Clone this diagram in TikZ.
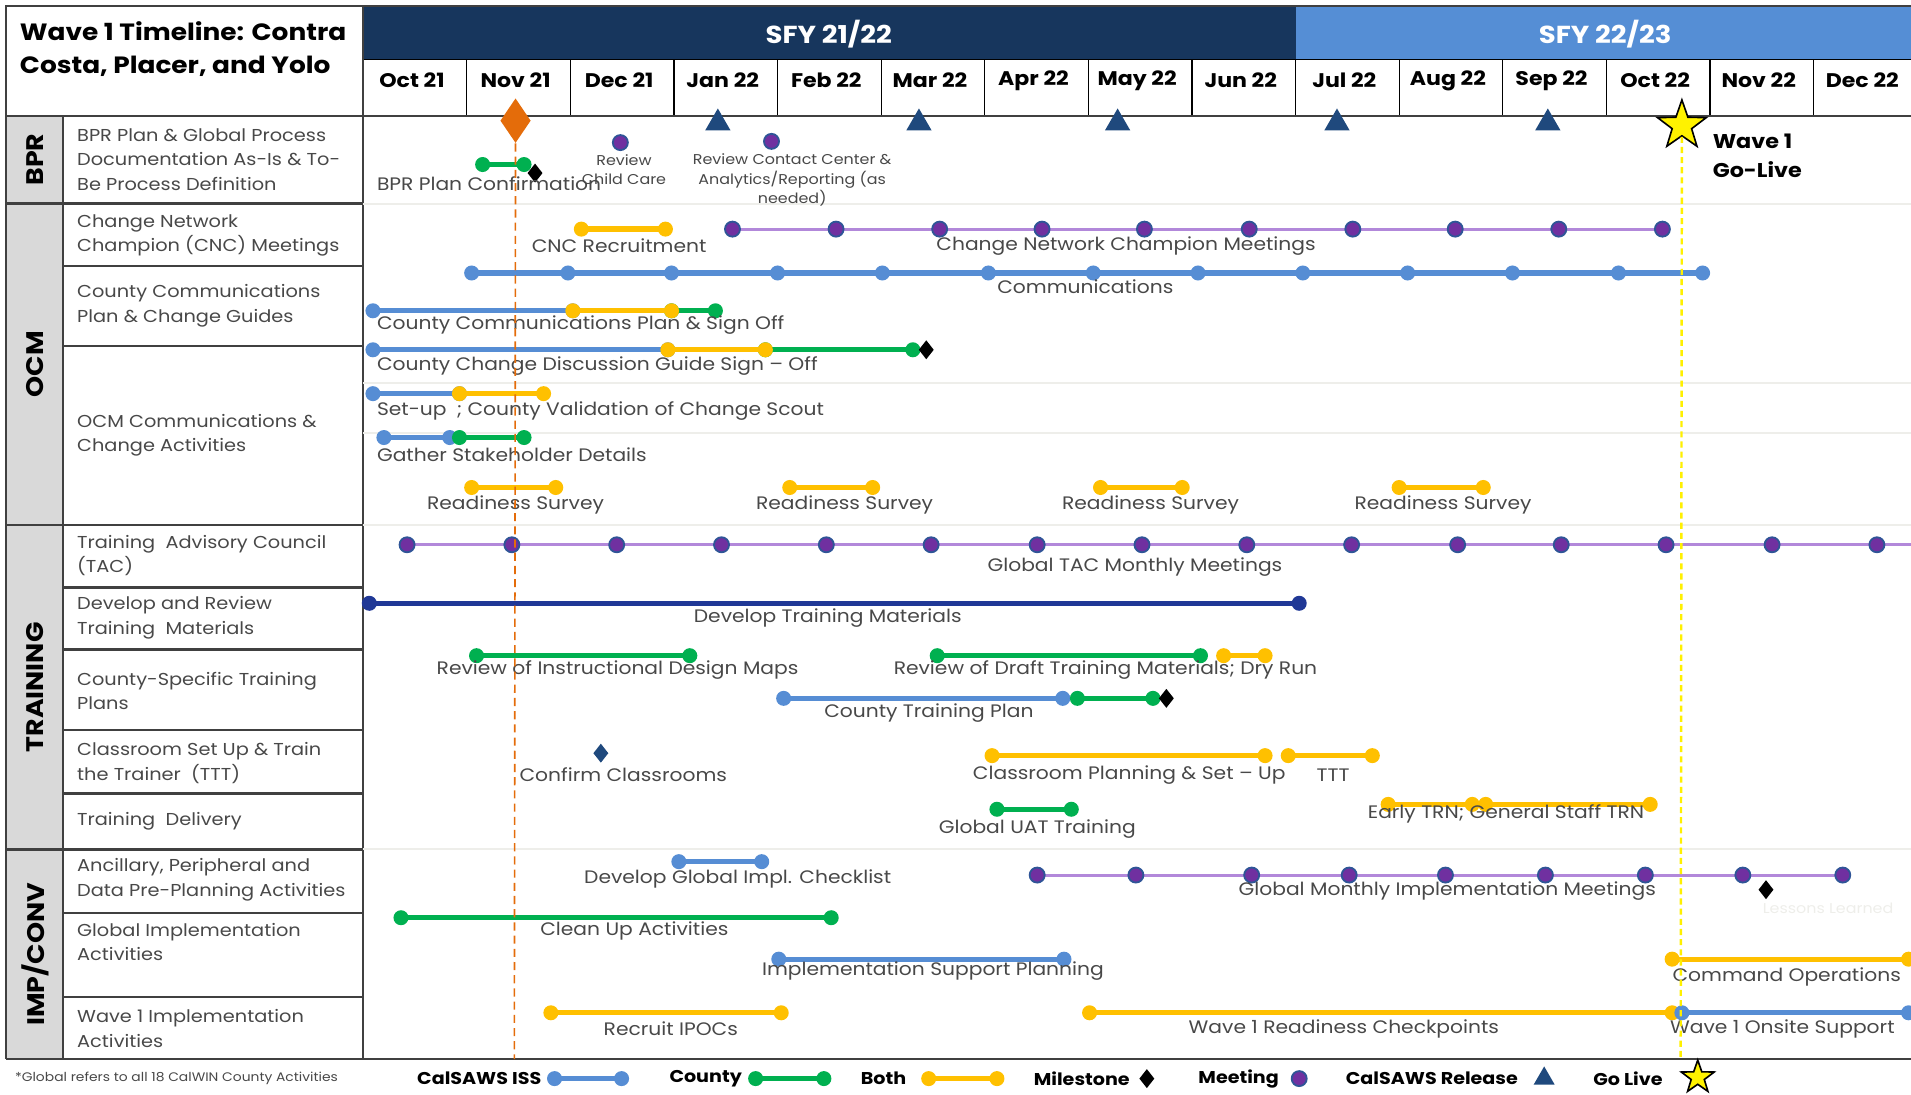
\documentclass[tikz,border=0pt]{standalone}
\usepackage{fontspec}
\setmainfont{Poppins}[FakeStretch=1.12]
\usetikzlibrary{shapes.geometric}

\definecolor{cNavyHdr}{RGB}{23,54,93}
\definecolor{cBlueHdr}{RGB}{85,142,213}
\definecolor{cISS}{RGB}{86,141,212}
\definecolor{cCounty}{RGB}{0,176,80}
\definecolor{cBoth}{RGB}{255,192,0}
\definecolor{cMeetDot}{RGB}{112,48,160}
\definecolor{cMeetRing}{RGB}{47,85,151}
\definecolor{cMeetLine}{RGB}{178,136,218}
\definecolor{cRelease}{RGB}{31,73,125}
\definecolor{cDevNavy}{RGB}{32,56,150}
\definecolor{cOrange}{RGB}{228,108,10}
\definecolor{cSide}{RGB}{217,217,217}
\definecolor{cTxt}{RGB}{72,72,72}
\definecolor{cGrid}{RGB}{64,64,64}
\definecolor{cFaint}{RGB}{238,238,234}
\definecolor{cGoLine}{RGB}{255,240,0}

\newcommand{\fRow}{\fontsize{8.5}{12}\selectfont}
\newcommand{\fLbl}{\fontsize{8.9}{10}\selectfont}
\newcommand{\fSmall}{\fontsize{7}{9.6}\selectfont}
\newcommand{\fMon}{\bfseries\fontsize{9.7}{11}\selectfont}
\newcommand{\fHdr}{\bfseries\fontsize{12.1}{14}\selectfont}
\newcommand{\fTitle}{\bfseries\fontsize{11.6}{16.2}\selectfont}
\newcommand{\fCat}{\bfseries\fontsize{11.8}{12}\selectfont}
\newcommand{\fLeg}{\bfseries\fontsize{8.4}{11}\selectfont}
\newcommand{\fGo}{\bfseries\fontsize{9.8}{14.4}\selectfont}
\newcommand{\fNote}{\fontsize{6.1}{7}\selectfont}

% colour, name, x from, x to, y
\newcommand{\tlbar}[5]{%
  \coordinate (#2s) at (#3,#5); \coordinate (#2e) at (#4,#5);
  \draw[tlline=#1] (#2s) -- (#2e);
  \node[tldot=#1] (#2d1) at (#2s) {};
  \node[tldot=#1] (#2d2) at (#2e) {};}
% name, y, x from, x to, dots
\newcommand{\tlmeet}[5]{%
  \coordinate (#1s) at (#3,#2); \coordinate (#1e) at (#4,#2);
  \draw[meetbar] (#1s) -- (#1e);
  \foreach \mx [count=\k] in {#5} \node[meetdot] (#1\k) at (\mx,#2) {};}

\begin{document}
\begin{tikzpicture}[x=0.6pt, y=-0.6pt,
  tldot/.style={circle, fill=#1, inner sep=0pt, minimum size=7.4pt},
  tlline/.style={draw=#1, line width=2.6pt},
  meetbar/.style={draw=cMeetLine, line width=1.5pt},
  meetdot/.style={circle, fill=cMeetDot, draw=cMeetRing, line width=0.9pt, inner sep=0pt, minimum size=7.4pt},
  milestone/.style={diamond, fill=black, inner sep=0pt, minimum width=7.5pt, minimum height=9.5pt},
  release/.style={regular polygon, regular polygon sides=3, fill=cRelease, inner sep=0pt, minimum size=14.4pt},
  golive/.style={star, star points=5, star point ratio=2.5, fill=yellow, draw=black, line width=0.8pt, inner sep=0pt, minimum size=#1},
  lbl/.style={anchor=west, inner sep=0pt, text=cTxt, font=\fLbl},
  clbl/.style={inner sep=0pt, text=cTxt, font=\fLbl},
  rowlbl/.style={anchor=west, align=left, inner sep=0pt, text=cTxt, font=\fRow},
  catlbl/.style={rotate=90, inner sep=0pt, font=\fCat},
  monthcell/.style={draw=black, line width=0.6pt, minimum width=51pt, minimum height=27.6pt, inner sep=0pt},
  leg/.style={anchor=west, inner sep=0pt, font=\fLeg},
  gridline/.style={draw=cGrid, line width=1.1pt}]
\useasboundingbox (0,0) rectangle (1568,898);

% header
\fill[cNavyHdr] (298,5) rectangle (1063,49);
\fill[cBlueHdr] (1063,5) rectangle (1568,49);
\node[text=white, font=\fHdr] (sfy1) at (680,28) {SFY 21/22};
\node[text=white, font=\fHdr] (sfy2) at (1317,28) {SFY 22/23};
\foreach \m [count=\i from 0] in {Oct 21, Nov 21, Dec 21, Jan 22, Feb 22, Mar 22, Apr 22, May 22, Jun 22, Jul 22, Aug 22, Sep 22, Oct 22, Nov 22, Dec 22}{
  \node[monthcell] (mon\i) at ({340.5+85*\i},72) {};
  \node[inner sep=0pt, font=\fMon] (monT\i) at ({338+85*\i},66) {\m};}
\draw[cGrid, line width=1pt] (5,5) -- (1568,5);
\draw[gridline] (5,5) rectangle (298,95);
\node[anchor=west, align=left, inner sep=0pt, font=\fTitle] (title) at (16,40) {Wave 1 Timeline: Contra\\Costa, Placer, and Yolo};

% left columns
\fill[cSide] (5,95) rectangle (52,869);
\foreach \yy in {167,218,284,431,482,533,599,651,697,749,818}
  \draw[gridline] (52,\yy) -- (298,\yy);
\foreach \yy in {95,167,431,697,869}
  \draw[gridline] (5,\yy) -- (298,\yy);
\draw[gridline] (5,95) -- (5,869);
\draw[gridline] (52,95) -- (52,869);
\draw[gridline] (298,5) -- (298,869);
\draw[cGrid, line width=1.1pt] (298,869) -- (1568,869);
\draw[cGrid, line width=0.8pt] (298,95) -- (1568,95);

\node[catlbl] (cBPR) at (29,131) {BPR};
\node[catlbl] (cOCM) at (29,299) {OCM};
\node[catlbl] (cTRN) at (29,564) {TRAINING};
\node[catlbl] (cIMP) at (29,783) {IMP/CONV};

\node[rowlbl] (r1) at (63,131) {BPR Plan \& Global Process\\Documentation As-Is \& To-\\Be Process Definition};
\node[rowlbl] (r2) at (63,193) {Change Network\\Champion (CNC) Meetings};
\node[rowlbl] (r3) at (63,251) {County Communications\\Plan \& Change Guides};
\node[rowlbl] (r4) at (63,357) {OCM Communications \&\\Change Activities};
\node[rowlbl] (r5) at (63,456) {Training\ \ Advisory Council\\(TAC)};
\node[rowlbl] (r6) at (63,507) {Develop and Review\\Training\ \ Materials};
\node[rowlbl] (r7) at (63,567) {County-Specific Training\\Plans};
\node[rowlbl] (r8) at (63,626) {Classroom Set Up \& Train\\the Trainer\ \ (TTT)};
\node[rowlbl] (r9) at (63,674) {Training\ \ Delivery};
\node[rowlbl] (r10) at (63,722) {Ancillary, Peripheral and\\Data Pre-Planning Activities};
\node[rowlbl] (r11) at (63,773) {Global Implementation\\Activities};
\node[rowlbl] (r12) at (63,844) {Wave 1 Implementation\\Activities};

% faint separators
\foreach \yy in {167,314,355,431,697}
  \draw[cFaint, line width=1pt] (298,\yy) -- (1568,\yy);

% releases and go-live
\foreach \rx [count=\i] in {589,754,917,1097,1270}
  \node[release] (rel\i) at (\rx,101) {};
\node[diamond, fill=cOrange, inner sep=0pt, minimum width=15pt, minimum height=22pt] (msBig) at (423,99) {};
\node[golive=25.2pt] (goLive) at (1380,103) {};
\node[anchor=west, align=left, inner sep=0pt, font=\fGo] (goTxt) at (1405,128) {Wave 1\\Go-Live};

% BPR
\tlbar{cCounty}{bpr}{396}{430}{135}
\node[milestone] (bprM) at (439,142) {};
\node[lbl] (bprT) at (309,151) {BPR Plan Confirmation};
\node[meetdot] (revA) at (509,117) {};
\node[meetdot] (revB) at (633,116) {};
\node[inner sep=0pt, align=center, text=cTxt, font=\fSmall] (revAT) at (512,139) {Review\\Child Care};
\node[inner sep=0pt, align=center, text=cTxt, font=\fSmall] (revBT) at (650,148) {Review Contact Center \&\\Analytics/Reporting (as\\needed)};

% OCM
\tlbar{cBoth}{cncR}{477}{546}{188}
\node[lbl] (cncRT) at (436,202) {CNC Recruitment};
\tlmeet{cncM}{188}{601}{1365}{601,686,771,855,939,1025,1110,1194,1279,1364}
\node[lbl] (cncMT) at (768,202) {Change Network Champion Meetings};
\coordinate (comS) at (387,224); \coordinate (comE) at (1397,224);
\draw[tlline=cISS] (comS) -- (comE);
\foreach \cx [count=\i] in {387,466,551,638,724,811,897,983,1069,1155,1241,1328,1397}
  \node[tldot=cISS] (com\i) at (\cx,224) {};
\node[lbl] (comT) at (818,235) {Communications};

\tlbar{cISS}{ccpA}{306}{470}{255}
\tlbar{cCounty}{ccpC}{551}{587}{255}
\tlbar{cBoth}{ccpB}{470}{551}{255}
\node[lbl] (ccpT) at (309,267) {County Communications Plan \& Sign Off};
\tlbar{cISS}{ccdA}{306}{548}{287}
\tlbar{cCounty}{ccdC}{628}{749}{287}
\tlbar{cBoth}{ccdB}{548}{628}{287}
\node[milestone] (ccdM) at (760,287) {};
\node[lbl] (ccdT) at (309,300) {County Change Discussion Guide Sign – Off};
\tlbar{cISS}{setA}{306}{377}{323}
\tlbar{cBoth}{setB}{377}{446}{323}
\node[lbl] (setT) at (309,337) {Set-up\hspace{5pt}; County Validation of Change Scout};
\tlbar{cISS}{gatA}{315}{369}{359}
\tlbar{cCounty}{gatB}{377}{430}{359}
\node[lbl] (gatT) at (309,373) {Gather Stakeholder Details};
\foreach \ra/\rb/\rc [count=\i] in {387/456/423,648/716/693,903/970/944,1148/1217/1184}{
  \tlbar{cBoth}{rs\i}{\ra}{\rb}{400}
  \node[clbl] (rs\i T) at (\rc,414) {Readiness Survey};}

% Training
\tlmeet{tac}{447}{334}{1568}{334,420,506,592,678,764,851,937,1023,1109,1196,1281,1367,1454,1540}
\node[lbl] (tacT) at (810,465) {Global TAC Monthly Meetings};
\tlbar{cDevNavy}{dev}{303}{1066}{495}
\node[lbl] (devT) at (569,507) {Develop Training Materials};
\tlbar{cCounty}{idm}{391}{566}{538}
\node[lbl] (idmT) at (358,550) {Review of Instructional Design Maps};
\tlbar{cCounty}{rdA}{769}{985}{538}
\tlbar{cBoth}{rdB}{1004}{1038}{538}
\node[lbl] (rdT) at (733,550) {Review of Draft Training Materials; Dry Run};
\tlbar{cISS}{ctpA}{643}{872}{573}
\tlbar{cCounty}{ctpB}{884}{946}{573}
\node[milestone] (ctpM) at (957,573) {};
\node[lbl] (ctpT) at (676,585) {County Training Plan};
\node[milestone, fill=cRelease] (ccM) at (493,618) {};
\node[lbl] (ccT) at (426,636) {Confirm Classrooms};
\tlbar{cBoth}{cpA}{814}{1038}{620}
\tlbar{cBoth}{cpB}{1057}{1126}{620}
\node[lbl] (cpT) at (798,636) {Classroom Planning \& Set – Up};
\node[lbl] (tttT) at (1080,636) {TTT};
\tlbar{cCounty}{uat}{818}{879}{664}
\node[lbl] (uatT) at (770,680) {Global UAT Training};
\tlbar{cBoth}{etA}{1139}{1208}{660}
\tlbar{cBoth}{etB}{1219}{1354}{660}
\node[lbl] (etT) at (1122,668) {Early TRN; General Staff TRN};

% Imp/Conv
\tlbar{cISS}{chk}{557}{625}{707}
\node[lbl] (chkT) at (479,721) {Develop Global Impl. Checklist};
\tlmeet{imp}{718}{851}{1512}{851,932,1027,1107,1186,1268,1350,1430,1512}
\node[milestone] (impM) at (1449,730) {};
\node[lbl] (impT) at (1016,731) {Global Monthly Implementation Meetings};
\node[lbl, text=cFaint, font=\fSmall] (llT) at (1446,745) {Lessons Learned};
\tlbar{cCounty}{cln}{329}{682}{753}
\node[lbl] (clnT) at (443,764) {Clean Up Activities};
\tlbar{cISS}{isp}{639}{873}{787}
\node[lbl] (ispT) at (625,797) {Implementation Support Planning};
\tlbar{cBoth}{cmd}{1372}{1566}{787}
\node[lbl] (cmdT) at (1372,802) {Command Operations};
\tlbar{cBoth}{ipo}{452}{641}{831}
\node[lbl] (ipoT) at (495,844) {Recruit IPOCs};
\tlbar{cBoth}{wrc}{894}{1372}{831}
\node[lbl] (wrcT) at (975,844) {Wave 1 Readiness Checkpoints};
\tlbar{cISS}{ons}{1380}{1566}{831}
\node[lbl] (onsT) at (1370,844) {Wave 1 Onsite Support};

% marker lines
\coordinate (msEnd) at (422,869);
\draw[cOrange, line width=0.8pt, dash pattern=on 4pt off 2.5pt] (msBig.south) -- (msEnd);
\coordinate (goEnd) at (1379,869);
\draw[cGoLine, line width=1.2pt, dash pattern=on 3pt off 2pt] (goLive.south) -- (goEnd);

% legend
\node[anchor=west, inner sep=0pt, text=cTxt, font=\fNote] (note) at (12,885) {*Global refers to all 18 CalWIN County Activities};
\node[leg] (lgISS) at (342,885) {CalSAWS ISS};
\tlbar{cISS}{lgA}{455}{510}{885}
\node[leg] (lgCty) at (549,885) {County};
\tlbar{cCounty}{lgB}{620}{676}{885}
\node[leg] (lgBoth) at (706,885) {Both};
\tlbar{cBoth}{lgC}{762}{818}{885}
\node[leg] (lgMs) at (848,885) {Milestone};
\node[milestone] (lgMsS) at (941,885) {};
\node[leg] (lgMeet) at (983,885) {Meeting};
\node[meetdot] (lgMeetS) at (1066,885) {};
\node[leg] (lgRel) at (1104,885) {CalSAWS Release};
\node[release, minimum size=12pt] (lgRelS) at (1267,885) {};
\node[leg] (lgGo) at (1307,885) {Go Live};
\node[golive=17pt] (lgGoS) at (1393,884) {};
\end{tikzpicture}
\end{document}
